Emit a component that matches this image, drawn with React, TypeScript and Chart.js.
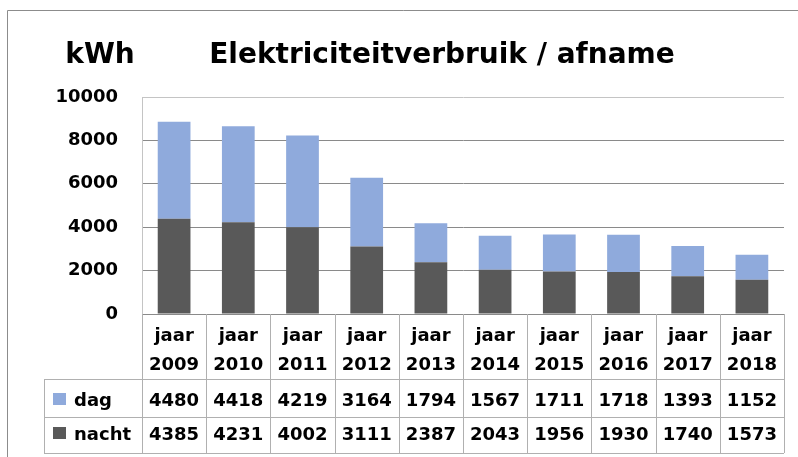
import React, { useEffect, useRef } from 'react';
import { Chart, registerables } from 'chart.js';

Chart.register(...registerables);

const title = 'Elektriciteitverbruik / afname';
const unitLabel = 'kWh';
const yearPrefix = 'jaar';
const years = ['2009', '2010', '2011', '2012', '2013', '2014', '2015', '2016', '2017', '2018'];
const dagValues = [4480, 4418, 4219, 3164, 1794, 1567, 1711, 1718, 1393, 1152];
const nachtValues = [4385, 4231, 4002, 3111, 2387, 2043, 1956, 1930, 1740, 1573];
const yMin = 0;
const yMax = 10000;
const yStep = 2000;
const seriesNames = ['dag', 'nacht'];

const FONT = '"DejaVu Sans", sans-serif';
const DAG_COLOR = '#8faadc';
const NACHT_COLOR = '#595959';
const TABLE_LINE = '#b0b0b0';

const decorPlugin = {
  id: 'decor',
  afterDraw(chart: any) {
    const ctx: CanvasRenderingContext2D = chart.ctx;
    const { left, right, bottom } = chart.chartArea;
    const xs = chart.scales.x;
    const n = years.length;
    const w = (right - left) / n;
    ctx.save();

    // outer frame
    ctx.strokeStyle = '#8c8c8c';
    ctx.lineWidth = 1;
    ctx.beginPath();
    ctx.moveTo(7.5, 470);
    ctx.lineTo(7.5, 10.5);
    ctx.lineTo(820, 10.5);
    ctx.stroke();

    // title + unit
    ctx.fillStyle = '#000';
    ctx.font = `bold 28px ${FONT}`;
    ctx.textAlign = 'center';
    ctx.textBaseline = 'alphabetic';
    ctx.fillText(unitLabel, 100, 63);
    ctx.fillText(title, 442, 63);

    // data table
    const r1 = bottom + 65;
    const r2 = bottom + 103;
    const r3 = bottom + 139;
    const tableLeft = 44;
    ctx.strokeStyle = TABLE_LINE;
    ctx.beginPath();
    for (let i = 0; i <= n; i++) {
      const x = Math.round(left + i * w) + 0.5;
      ctx.moveTo(x, bottom);
      ctx.lineTo(x, r3);
    }
    ctx.moveTo(tableLeft + 0.5, r1);
    ctx.lineTo(tableLeft + 0.5, r3);
    for (const y of [r1, r2, r3]) {
      ctx.moveTo(tableLeft, Math.round(y) + 0.5);
      ctx.lineTo(right, Math.round(y) + 0.5);
    }
    ctx.stroke();

    ctx.font = `bold 18px ${FONT}`;
    ctx.fillStyle = '#000';
    ctx.textAlign = 'center';
    for (let i = 0; i < n; i++) {
      const cx = xs.getPixelForValue(i);
      ctx.fillText(yearPrefix, cx, bottom + 27);
      ctx.fillText(years[i], cx, bottom + 56);
      ctx.fillText(String(dagValues[i]), cx, bottom + 92);
      ctx.fillText(String(nachtValues[i]), cx, bottom + 126);
    }

    // legend keys in table
    const rows = [
      { name: seriesNames[0], color: DAG_COLOR, base: bottom + 92 },
      { name: seriesNames[1], color: NACHT_COLOR, base: bottom + 126 },
    ];
    ctx.textAlign = 'left';
    for (const r of rows) {
      ctx.fillStyle = r.color;
      ctx.fillRect(53, r.base - 13, 13, 12);
      ctx.fillStyle = '#000';
      ctx.fillText(r.name, 74, r.base);
    }
    ctx.restore();
  },
};

export default function App() {
  const ref = useRef<HTMLCanvasElement | null>(null);

  useEffect(() => {
    if (!ref.current) return;
    const chart = new Chart(ref.current, {
      type: 'bar',
      data: {
        labels: years.map((y) => [yearPrefix, y]),
        datasets: [
          {
            label: seriesNames[1],
            data: nachtValues,
            backgroundColor: NACHT_COLOR,
            stack: 's',
            categoryPercentage: 1,
            barPercentage: 0.51,
          },
          {
            label: seriesNames[0],
            data: dagValues,
            backgroundColor: DAG_COLOR,
            stack: 's',
            categoryPercentage: 1,
            barPercentage: 0.51,
          },
        ],
      },
      options: {
        responsive: false,
        animation: false,
        layout: { padding: { top: 97, right: 14, bottom: 143, left: 0 } },
        plugins: {
          legend: { display: false },
          title: { display: false },
          tooltip: { enabled: false },
        },
        scales: {
          x: { display: false, stacked: true },
          y: {
            stacked: true,
            min: yMin,
            max: yMax,
            ticks: {
              stepSize: yStep,
              color: '#000',
              padding: 24,
              font: { family: FONT, size: 18, weight: 'bold' },
              callback: (v: any) => String(v),
            },
            grid: {
              drawTicks: false,
              color: (c: any) => (c.tick && c.tick.value === yMax ? '#c4c4c4' : '#8a8a8a'),
            },
            border: { color: '#c4c4c4' },
            afterFit: (s: any) => {
              s.width = 142;
            },
          },
        },
      },
      plugins: [decorPlugin],
    } as any);
    return () => chart.destroy();
  }, []);

  return (
    <div style={{ position: 'fixed', left: 0, top: 0, width: 798, height: 457, background: '#fff' }}>
      <canvas ref={ref} width={798} height={457} style={{ display: 'block', width: 798, height: 457 }} />
    </div>
  );
}
